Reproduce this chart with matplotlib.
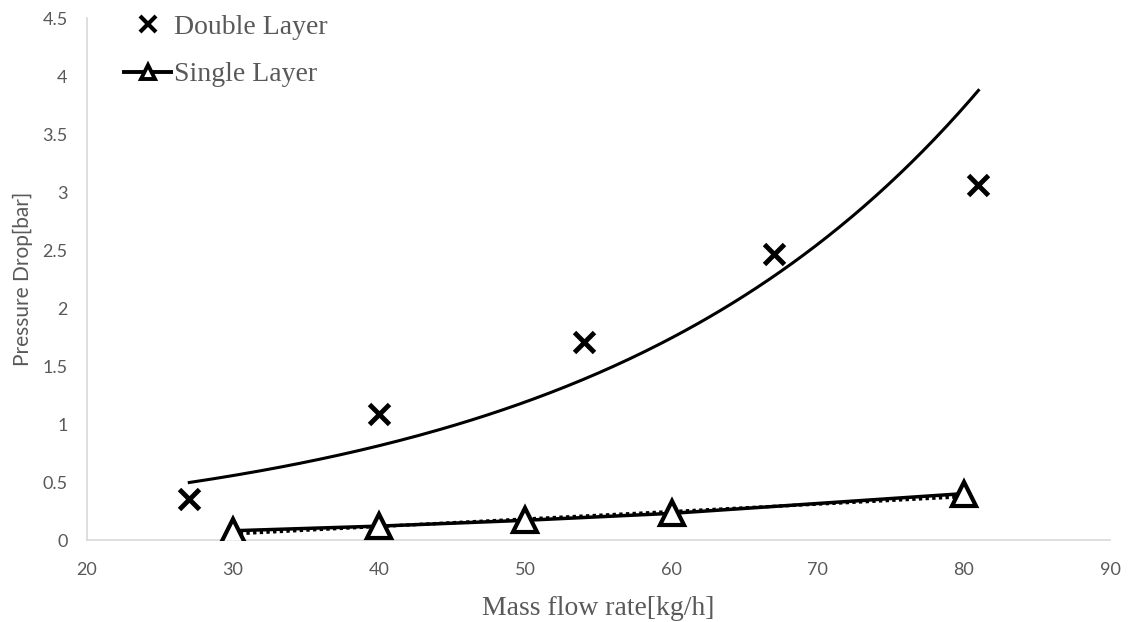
import numpy as np
import matplotlib
matplotlib.use("Agg")
import matplotlib.pyplot as plt
from matplotlib.lines import Line2D

# Data
double_x = [27, 40, 54, 67, 81]
double_y = [0.35, 1.09, 1.71, 2.47, 3.06]
single_x = [30, 40, 50, 60, 80]
single_y = [0.08, 0.12, 0.17, 0.23, 0.40]
x_ticks = [20, 30, 40, 50, 60, 70, 80, 90]
y_ticks = [0, 0.5, 1, 1.5, 2, 2.5, 3, 3.5, 4, 4.5]
y_tick_labels = ["0", "0.5", "1", "1.5", "2", "2.5", "3", "3.5", "4", "4.5"]

fig = plt.figure(figsize=(11.28, 6.22), dpi=100)
ax = fig.add_axes([0.0771, 0.1318, 0.9069, 0.8392])

grey = "#595959"
spine_c = "#d9d9d9"

# Exponential trendline for double layer (least squares on log)
b, lna = np.polyfit(double_x, np.log(double_y), 1)
tx = np.linspace(min(double_x), max(double_x), 200)
ax.plot(tx, np.exp(lna) * np.exp(b * tx), color="black", lw=2.2, zorder=2)

# Linear trendline for single layer (dotted)
m, c = np.polyfit(single_x, single_y, 1)
sx = np.linspace(min(single_x), max(single_x), 100)
ax.plot(sx, m * sx + c - 0.006, color="black", lw=2.4, ls=(0, (1, 1)), zorder=2)

# Single layer line with triangles
ax.plot(single_x, single_y, color="black", lw=2.5, marker="^", markersize=17,
        markerfacecolor="white", markeredgecolor="black", markeredgewidth=3, zorder=3)

# Double layer x markers
ax.plot(double_x, double_y, ls="none", marker="x", markersize=14,
        markeredgewidth=3.5, color="black", zorder=4)

ax.set_xlim(20, 90)
ax.set_ylim(0, 4.5)
ax.set_xticks(x_ticks)
ax.set_yticks(y_ticks)
ax.set_yticklabels(y_tick_labels)
ax.tick_params(axis="both", length=0, labelsize=13, labelcolor=grey)
ax.tick_params(axis="x", pad=16)
ax.tick_params(axis="y", pad=14)
for lab in ax.get_xticklabels() + ax.get_yticklabels():
    lab.set_fontfamily("Lato")

for s in ["top", "right"]:
    ax.spines[s].set_visible(False)
for s in ["left", "bottom"]:
    ax.spines[s].set_color(spine_c)
    ax.spines[s].set_linewidth(1.2)

ax.set_xlabel("Mass flow rate[kg/h]", fontsize=20, color=grey,
              fontfamily="Liberation Serif", labelpad=13)
ax.set_ylabel("Pressure Drop[bar]", fontsize=15, color=grey,
              fontfamily="Lato", labelpad=4)
ax.yaxis.set_label_coords(-0.053, 0.5)

handles = [
    Line2D([], [], ls="none", marker="x", markersize=11, markeredgewidth=3, color="black"),
    Line2D([], [], color="black", lw=2.8, marker="^", markersize=10,
           markerfacecolor="white", markeredgecolor="black", markeredgewidth=2.8),
]
leg = ax.legend(handles, ["Double Layer", "Single Layer"], loc="upper left",
                bbox_to_anchor=(0.012, 1.055), frameon=False,
                prop={"family": "Liberation Serif", "size": 20},
                handlelength=1.7, handletextpad=0.1, labelspacing=0.8)
for t in leg.get_texts():
    t.set_color(grey)

fig.savefig("out.png", dpi=100)
